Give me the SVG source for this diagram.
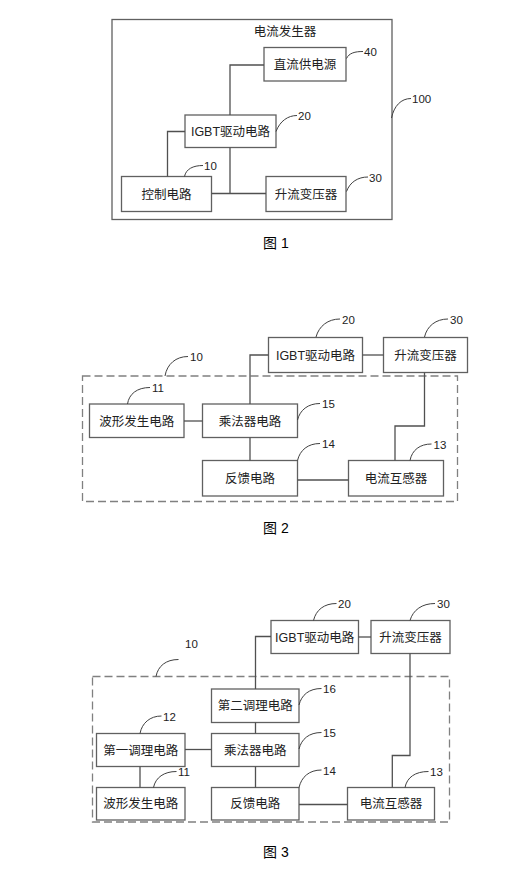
<svg xmlns="http://www.w3.org/2000/svg" width="526" height="892" viewBox="0 0 526 892">
<style>
.b{fill:#fff;stroke:#606060;stroke-width:1.3}
.d{fill:none;stroke:#808080;stroke-width:1.3;stroke-dasharray:8,4}
.c{fill:none;stroke:#505050;stroke-width:1.3}
.l{fill:none;stroke:#404040;stroke-width:1}
.t{font-family:"Liberation Sans","Noto Sans CJK SC",sans-serif;font-size:12.5px;fill:#222;text-anchor:middle}
.n{font-family:"Liberation Sans","Noto Sans CJK SC",sans-serif;font-size:11.5px;fill:#222}
.cap{font-family:"Liberation Sans","Noto Sans CJK SC",sans-serif;font-size:14px;fill:#000}
</style>
<rect width="526" height="892" fill="#fff"/>

<!-- Figure 1 -->
<g id="fig1-generator"><rect class="b" x="112" y="19.5" width="280" height="200"/><text class="t" x="285" y="36">电流发生器</text></g>
<g id="fig1-dc"><rect class="b" x="264" y="47.5" width="82" height="33.5"/><text class="t" x="305" y="68.5">直流供电源</text></g>
<g id="fig1-igbt"><rect class="b" x="185" y="115" width="91" height="32.5"/><text class="t" x="230.5" y="135.5">IGBT驱动电路</text></g>
<g id="fig1-ctrl"><rect class="b" x="121.5" y="176.5" width="90" height="35"/><text class="t" x="166.5" y="198.5">控制电路</text></g>
<g id="fig1-trans"><rect class="b" x="266" y="176.5" width="80" height="35"/><text class="t" x="306" y="198.5">升流变压器</text></g>
<g id="fig1-connectors">
<path class="c" d="M230 115V65H264"/>
<path class="c" d="M230 147.5V193.5H266M211.5 193.5H230"/>
<path class="c" d="M185 131.5H167.5V176.5"/>
</g>
<g id="fig1-labels">
<path class="l" d="M346.5 58.5C349 53 355 51.5 363 51.5"/><text class="n" x="364" y="56">40</text>
<path class="l" d="M276 131.5C280 121 288 115.5 297 115.5"/><text class="n" x="298" y="120">20</text>
<path class="l" d="M184.5 176.5C186 169 193 165.5 203 165.5"/><text class="n" x="204" y="170">10</text>
<path class="l" d="M346.5 191.5C350 182 358 177 368 177"/><text class="n" x="369" y="181.5">30</text>
<path class="l" d="M391.5 118C394 106 401 98.5 411 98.5"/><text class="n" x="412" y="103">100</text>
</g>
<text class="cap" x="263" y="248">图 1</text>

<!-- Figure 2 -->
<g id="fig2-group10"><rect class="d" x="82.5" y="376" width="375" height="125.5"/></g>
<g id="fig2-igbt"><rect class="b" x="268.5" y="337.5" width="94" height="35"/><text class="t" x="315.5" y="359.5">IGBT驱动电路</text></g>
<g id="fig2-trans"><rect class="b" x="383.5" y="337.5" width="84" height="35"/><text class="t" x="425.5" y="359.5">升流变压器</text></g>
<g id="fig2-wave"><rect class="b" x="89.5" y="404" width="94.5" height="33.5"/><text class="t" x="136.7" y="425.5">波形发生电路</text></g>
<g id="fig2-mult"><rect class="b" x="202.5" y="404" width="95" height="33.5"/><text class="t" x="250" y="425.5">乘法器电路</text></g>
<g id="fig2-fb"><rect class="b" x="202.5" y="460.5" width="95" height="35.5"/><text class="t" x="250" y="482.5">反馈电路</text></g>
<g id="fig2-ct"><rect class="b" x="348.5" y="460.5" width="95" height="35.5"/><text class="t" x="396" y="482.5">电流互感器</text></g>
<g id="fig2-connectors">
<path class="c" d="M184 421H202.5"/>
<path class="c" d="M250 404V355H268.5"/>
<path class="c" d="M250 437.5V460.5"/>
<path class="c" d="M297.5 480H348.5"/>
<path class="c" d="M362.5 355H383.5"/>
<path class="c" d="M424.5 372.5V426H395V460.5"/>
</g>
<g id="fig2-labels">
<path class="l" d="M316 337C319 326 328 319 340 319"/><text class="n" x="342" y="323.5">20</text>
<path class="l" d="M424.5 337C427 326 436 319 448 319"/><text class="n" x="450" y="323.5">30</text>
<path class="l" d="M165 376C167 364 176 356.5 188 356.5"/><text class="n" x="190" y="361">10</text>
<path class="l" d="M127.5 404C129 394 137 387.5 150 387.5"/><text class="n" x="152" y="392">11</text>
<path class="l" d="M297.5 420C300 410 308 403.5 320 403.5"/><text class="n" x="322" y="408">15</text>
<path class="l" d="M297.5 460.5C300 450 308 443.5 320 443.5"/><text class="n" x="322" y="448">14</text>
<path class="l" d="M410 460.5C412 450 420 444 431.5 444"/><text class="n" x="433.5" y="448.5">13</text>
</g>
<text class="cap" x="263" y="533">图 2</text>

<!-- Figure 3 -->
<g id="fig3-group10"><rect class="d" x="92.5" y="676.5" width="357" height="145.5"/></g>
<g id="fig3-igbt"><rect class="b" x="271" y="620.5" width="87.5" height="33"/><text class="t" x="314.7" y="641.5">IGBT驱动电路</text></g>
<g id="fig3-trans"><rect class="b" x="371" y="620.5" width="79" height="33"/><text class="t" x="410.5" y="641.5">升流变压器</text></g>
<g id="fig3-cond2"><rect class="b" x="211.5" y="689" width="87.5" height="33.5"/><text class="t" x="255.3" y="710">第二调理电路</text></g>
<g id="fig3-cond1"><rect class="b" x="96.5" y="733.5" width="88.5" height="33"/><text class="t" x="140.8" y="754.5">第一调理电路</text></g>
<g id="fig3-mult"><rect class="b" x="211.5" y="733.5" width="87.5" height="33"/><text class="t" x="255.3" y="754.5">乘法器电路</text></g>
<g id="fig3-wave"><rect class="b" x="96.5" y="787.5" width="88.5" height="32.5"/><text class="t" x="140.8" y="808">波形发生电路</text></g>
<g id="fig3-fb"><rect class="b" x="211.5" y="787.5" width="87.5" height="32.5"/><text class="t" x="255.3" y="808">反馈电路</text></g>
<g id="fig3-ct"><rect class="b" x="347.5" y="787.5" width="87" height="32.5"/><text class="t" x="391" y="808">电流互感器</text></g>
<g id="fig3-connectors">
<path class="c" d="M271 636.5H255.5V689"/>
<path class="c" d="M255.5 722.5V733.5"/>
<path class="c" d="M185 749.5H211.5"/>
<path class="c" d="M140 766.5V787.5"/>
<path class="c" d="M255.5 766.5V787.5"/>
<path class="c" d="M299 804.5H347.5"/>
<path class="c" d="M358.5 637H371"/>
<path class="c" d="M410 653.5V755.5H392.3V787.5"/>
</g>
<g id="fig3-labels">
<path class="l" d="M313.5 620.5C316 610 324 603.5 336.5 603.5"/><text class="n" x="338" y="608">20</text>
<path class="l" d="M410 620.5C413 610 422 603.5 435 603.5"/><text class="n" x="437" y="608">30</text>
<text class="n" x="185" y="648">10</text>
<path class="l" d="M156 676.5C158 666 166 659.5 178.5 659.5"/>
<path class="l" d="M299 705C301.5 695 309 688.5 321.5 688.5"/><text class="n" x="323" y="693">16</text>
<path class="l" d="M140 733.5C142 723 150 716 161.5 716"/><text class="n" x="163" y="720.5">12</text>
<path class="l" d="M299 749C301.5 739 309 732.5 321.5 732.5"/><text class="n" x="323" y="737">15</text>
<path class="l" d="M153.5 787.5C155.5 777.5 164 771.5 176.5 771.5"/><text class="n" x="178" y="776">11</text>
<path class="l" d="M299 787.5C301.5 777 309 770 321.5 770"/><text class="n" x="323" y="774.5">14</text>
<path class="l" d="M405 787.5C407 777.5 415 771.5 428.5 771.5"/><text class="n" x="430" y="776">13</text>
</g>
<text class="cap" x="263" y="857">图 3</text>
</svg>
